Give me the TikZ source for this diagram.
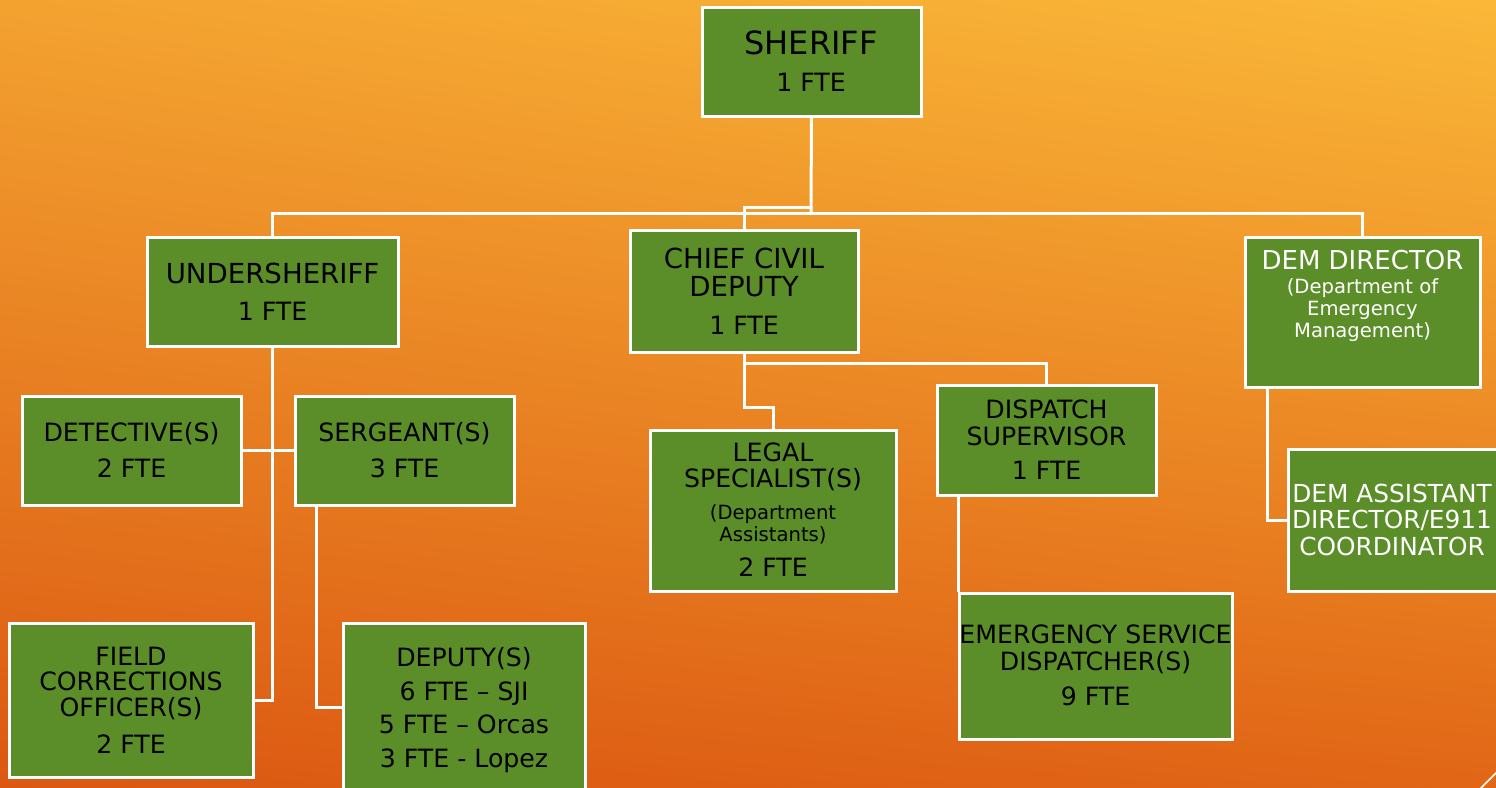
\documentclass[tikz,border=0pt]{standalone}
\usepackage{fontspec}
\setmainfont{DejaVu Sans}
\usetikzlibrary{fit,shadings}
\definecolor{bgUL}{RGB}{243,162,48}
\definecolor{bgUR}{RGB}{250,184,56}
\definecolor{bgLL}{RGB}{219,88,18}
\definecolor{bgLR}{RGB}{225,102,22}
\definecolor{boxgreen}{RGB}{91,142,40}
\tikzset{
  orgbox/.style={draw=white, line width=1.5pt, fill=boxgreen, inner sep=0pt},
  link/.style={draw=white, line width=1.5pt},
  tmain/.style={anchor=base, inner sep=0pt, text=black, font=\fontsize{12.6}{14}\selectfont},
  tbig/.style={anchor=base, inner sep=0pt, text=black, font=\fontsize{13.8}{16}\selectfont},
  ttitle/.style={anchor=base, inner sep=0pt, text=black, font=\fontsize{16}{18}\selectfont},
  tsmall/.style={anchor=base, inner sep=0pt, text=black, font=\fontsize{9.8}{12}\selectfont},
  twhite/.style={anchor=base, inner sep=0pt, text=white, font=\fontsize{12.4}{14}\selectfont},
  twhitebig/.style={anchor=base, inner sep=0pt, text=white, font=\fontsize{13}{16}\selectfont},
  twhitesmall/.style={anchor=base, inner sep=0pt, text=white, font=\fontsize{9.8}{12}\selectfont},
}
\begin{document}
\begin{tikzpicture}[x=0.5pt,y=-0.5pt]
\useasboundingbox (0,0) rectangle (1496,788);
\clip (0,0) rectangle (1496,788);
\shade[upper left=bgUL, upper right=bgUR, lower left=bgLL, lower right=bgLR] (0,0) rectangle (1496,788);

% boxes
\node[orgbox, fit={(702,7) (921,116)}] (sheriff) {};
\node[orgbox, fit={(147,237) (398,346)}] (under) {};
\node[orgbox, fit={(630,230) (858,352)}] (chief) {};
\node[orgbox, fit={(1245,237) (1480,387)}] (demdir) {};
\node[orgbox, fit={(22,396) (241,505)}] (det) {};
\node[orgbox, fit={(295,396) (514,505)}] (serg) {};
\node[orgbox, fit={(650,430) (896,591)}] (legal) {};
\node[orgbox, fit={(937,385) (1156,495)}] (disp) {};
\node[orgbox, fit={(1288,449) (1510,591)}] (demasst) {};
\node[orgbox, fit={(9,623) (253,777)}] (field) {};
\node[orgbox, fit={(343,623) (585,792)}] (deputy) {};
\node[orgbox, fit={(959,593) (1232,739)}] (emerg) {};

% connectors
\coordinate (bus) at (811,213);
\coordinate (jog) at (811,207);
\draw[link] (sheriff.south) -- (bus);
\draw[link] (under.north) |- (bus) -| (demdir.north);
\draw[link] (chief.north) |- (jog);
\draw[link] (under.south) |- (field.east);
\draw[link] (det.east) -- (serg.west);
\draw[link] ([xshift=11.5pt]serg.south west) |- (deputy.west);
\draw[link] (chief.south) -- ++(0,10) -| (disp.north);
\draw[link] (chief.south) -- ++(0,54) -| (legal.north);
\draw[link] ([xshift=11.5pt]disp.south west) coordinate (d1) -- (d1 |- emerg.north);
\draw[link] ([xshift=12pt]demdir.south west) |- (demasst.west);

% texts
\node[ttitle] (t1) at (811,54.5) {SHERIFF};
\node[tmain] (t2) at (811,91) {1 FTE};
\node[tbig] (t3) at (272.5,283) {UNDERSHERIFF};
\node[tmain] (t4) at (272.5,320) {1 FTE};
\node[tbig] (t5) at (744,268) {CHIEF CIVIL};
\node[tbig] (t6) at (744,296) {DEPUTY};
\node[tmain] (t7) at (744,334) {1 FTE};
\node[twhitebig] (t8) at (1362.5,269.5) {DEM DIRECTOR};
\node[twhitesmall] (t9) at (1362.5,293) {(Department of};
\node[twhitesmall] (t10) at (1362.5,315) {Emergency};
\node[twhitesmall] (t11) at (1362.5,337) {Management)};
\node[tmain] (t12) at (131.5,441) {DETECTIVE(S)};
\node[tmain] (t13) at (131.5,477) {2 FTE};
\node[tmain] (t14) at (404.5,441) {SERGEANT(S)};
\node[tmain] (t15) at (404.5,477) {3 FTE};
\node[tmain] (t16) at (773,461) {LEGAL};
\node[tmain] (t17) at (773,487) {SPECIALIST(S)};
\node[tsmall] (t18) at (773,519) {(Department};
\node[tsmall] (t19) at (773,541) {Assistants)};
\node[tmain] (t20) at (773,576) {2 FTE};
\node[tmain] (t21) at (1046.5,418) {DISPATCH};
\node[tmain] (t22) at (1046.5,445) {SUPERVISOR};
\node[tmain] (t23) at (1046.5,479) {1 FTE};
\node[twhite] (t24) at (1392,502) {DEM ASSISTANT};
\node[twhite] (t25) at (1392,528) {DIRECTOR/E911};
\node[twhite] (t26) at (1392,555) {COORDINATOR};
\node[tmain] (t27) at (131,665) {FIELD};
\node[tmain] (t28) at (131,690) {CORRECTIONS};
\node[tmain] (t29) at (131,716) {OFFICER(S)};
\node[tmain] (t30) at (131,753) {2 FTE};
\node[tmain] (t31) at (464,666) {DEPUTY(S)};
\node[tmain] (t32) at (464,700) {6 FTE – SJI};
\node[tmain] (t33) at (464,733) {5 FTE – Orcas};
\node[tmain] (t34) at (464,767) {3 FTE - Lopez};
\node[tmain] (t35) at (1095.5,643) {EMERGENCY SERVICE};
\node[tmain] (t36) at (1095.5,670) {DISPATCHER(S)};
\node[tmain] (t37) at (1095.5,705) {9 FTE};

% corner decoration
\coordinate (dg1) at (1479,790);
\coordinate (dg2) at (1498,771);
\draw[white, line width=0.8pt] (dg1) -- (dg2);
\end{tikzpicture}
\end{document}
